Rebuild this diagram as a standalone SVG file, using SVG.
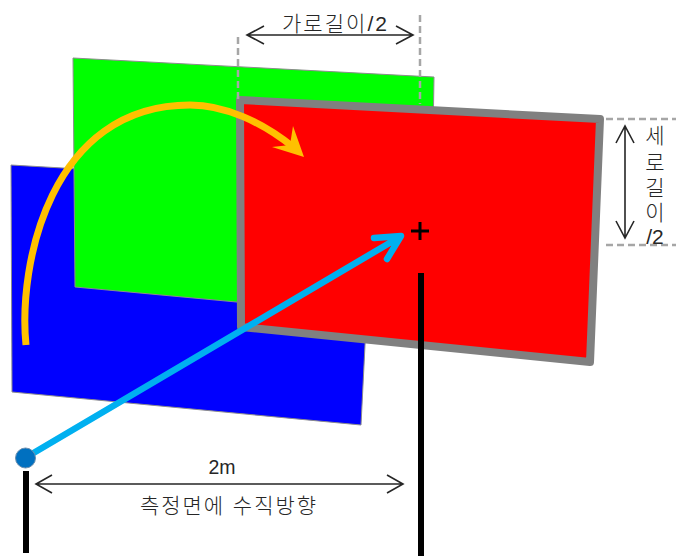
<svg xmlns="http://www.w3.org/2000/svg" width="676" height="556" viewBox="0 0 676 556">
<style>
text{font-family:"Liberation Sans","Noto Sans CJK KR",sans-serif;fill:#262626;font-size:21px;font-weight:300}
.dash{fill:none;stroke:#a6a6a6;stroke-width:2.5;stroke-dasharray:7 4}
.dim{fill:none;stroke:#262626;stroke-width:1.6}
.post{stroke:#000;stroke-width:6;fill:none}
.plane{stroke:#8c8c8c;stroke-width:1}
</style>
<rect width="676" height="556" fill="#fff"/>
<g id="plane-blue"><polygon class="plane" points="11,165 373,186 361,425 12,392" fill="#0000ff"/></g>
<g id="plane-green"><polygon class="plane" points="73,58 434,77 430,320 75,287" fill="#00ff00"/></g>
<g id="plane-red"><polygon points="240,100 600,119 590,362 241,327" fill="#ff0000" stroke="#808080" stroke-width="8" stroke-linejoin="round"/></g>
<g id="connectors">
<path class="dash" d="M238 37V100M420 15V104M606 119H676M606 245H676"/>
<path class="dim" d="M247 35H413M264 26L247 35L264 44M396 26L413 35L396 44"/>
<path class="dim" d="M625 126V238M616 143L625 126L634 143M616 221L625 238L634 221"/>
<path class="dim" d="M36 484H403M52 475L36 484L52 493M387 475L403 484L387 493"/>
<path d="M26 345C18 265 50 105 190 105C225 105 262 122 293 147" fill="none" stroke="#ffc000" stroke-width="7"/>
<polygon points="304,157 272,147 290,145 293,126" fill="#ffc000"/>
<path d="M25 458L398 238M374 238L401 236L387 259" fill="none" stroke="#00b0f0" stroke-width="6.5" stroke-linecap="round" stroke-linejoin="round"/>
<path class="post" d="M26 471V553M421 273V556"/>
<path d="M411 231H429M420 222V240" stroke="#000" stroke-width="3" fill="none"/>
</g>
<g id="origin"><circle cx="25.5" cy="458" r="10" fill="#0070c0" stroke="#6b8fb0" stroke-width="1"/></g>
<g id="labels">
<text x="282" y="31" textLength="105" lengthAdjust="spacing">가로길이/2</text>
<text x="655" y="143" text-anchor="middle">세</text>
<text x="655" y="170" text-anchor="middle">로</text>
<text x="655" y="195" text-anchor="middle">길</text>
<text x="655" y="220" text-anchor="middle">이</text>
<text x="655" y="244" text-anchor="middle">/2</text>
<text x="222" y="474" text-anchor="middle" style="font-size:19.5px">2m</text>
<text x="140" y="513" textLength="176" lengthAdjust="spacing">측정면에 수직방향</text>
</g>
</svg>
